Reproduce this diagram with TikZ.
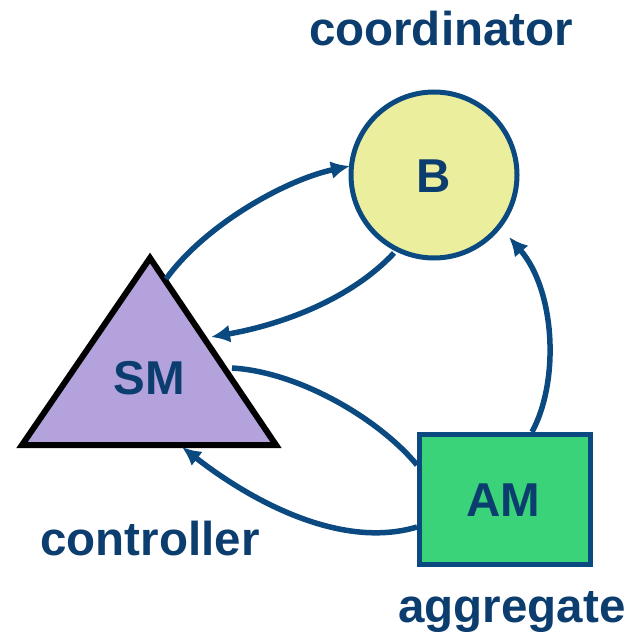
\documentclass[tikz,border=0pt]{standalone}
\usepackage{fontspec}
\setmainfont{Liberation Sans}
\usetikzlibrary{arrows.meta}
\definecolor{navy}{HTML}{0B3D6E}
\definecolor{arrowblue}{HTML}{0A4A80}
\definecolor{byellow}{HTML}{EBEE9C}
\definecolor{smpurple}{HTML}{B3A2DC}
\definecolor{amgreen}{HTML}{3BD37A}
\begin{document}
\begin{tikzpicture}[x=1pt,y=-1pt,
  lbl/.style={font=\fontsize{47.5}{52}\selectfont\bfseries, text=navy, inner sep=0pt, anchor=base},
  conn/.style={draw=arrowblue, line width=5.5pt},
  tip/.style={-{Latex[length=19pt,width=18pt]}}]
\useasboundingbox (0,0) rectangle (633,642);
% shapes
\node[circle, draw=arrowblue, line width=5pt, fill=byellow, minimum size=166pt, inner sep=0pt] (B) at (434,175) {};
\draw[line width=6pt, fill=smpurple, line join=miter] (150,258) -- (276,445) -- (22,445) -- cycle;
\node[draw=arrowblue, line width=5pt, fill=amgreen, minimum width=171pt, minimum height=130pt, inner sep=0pt] (AM) at (504.5,499) {};
% labels
\node[lbl] (Bl) at (434,192) {B};
\node[lbl] (SMl) at (149,394) {SM};
\node[lbl] (AMl) at (503,516) {AM};
\node[lbl] (coord) at (441,46) {coordinator};
\node[lbl] (ctrl) at (150,555) {controller};
\node[lbl] (aggr) at (512,622) {aggregate};
% connector end points
\coordinate (smA) at (166,279);
\coordinate (bA) at (350,166);
\coordinate (bB) at (394,253);
\coordinate (smB) at (211,337);
\coordinate (amC) at (532,432);
\coordinate (bC) at (509,237);
\coordinate (smD) at (232,368);
\coordinate (amD) at (417,465);
\coordinate (amE) at (417,527);
\coordinate (smE) at (182,447);
% connectors
\draw[conn,tip] (smA) .. controls (205,225) and (285,180) .. (bA);
\draw[conn,tip] (bB) .. controls (350,300) and (280,325) .. (smB);
\draw[conn,tip] (amC) .. controls (560,380) and (555,290) .. (bC);
\draw[conn] (smD) .. controls (300,372) and (380,420) .. (amD);
\draw[conn,tip] (amE) .. controls (340,550) and (250,500) .. (smE);
\end{tikzpicture}
\end{document}
